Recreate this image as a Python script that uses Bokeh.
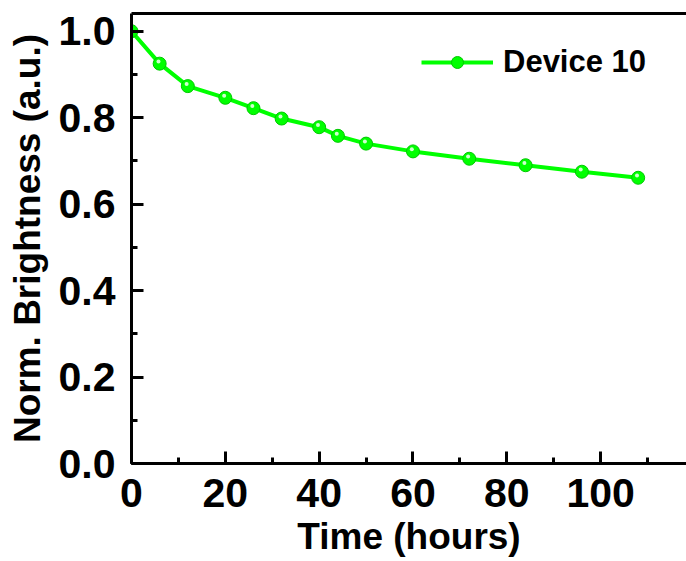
from bokeh.plotting import figure
from bokeh.models import (Range1d, LinearAxis, SingleIntervalTicker, FixedTicker,
                          Legend, LegendItem, ColumnDataSource, NumeralTickFormatter)
from bokeh.transform import dodge
from bokeh.embed import file_html
from bokeh.resources import INLINE

# ---- data ----
time_hours = [0, 6, 12, 20, 26, 32, 40, 44, 50, 60, 72, 84, 96, 108]
brightness = [1.0, 0.925, 0.873, 0.846, 0.822, 0.798, 0.778, 0.758,
              0.740, 0.722, 0.705, 0.690, 0.675, 0.661]
series_label = "Device 10"
x_title = "Time (hours)"
y_title = "Norm. Brightness (a.u.)"

FONT = "Liberation Sans"
GREEN = "#00ff00"

src = ColumnDataSource(dict(t=time_hours, b=brightness))

p = figure(width=686, height=561, output_backend="svg", toolbar_location=None,
           x_range=Range1d(0, 118.3), y_range=Range1d(0, 1.041),
           min_border_left=131, min_border_right=0, min_border_top=13,
           min_border_bottom=98, x_axis_location=None, y_axis_location=None)
p.outline_line_color = None
p.grid.visible = False
p.background_fill_color = "white"
p.border_fill_color = "white"

def style_axis(ax):
    ax.axis_line_width = 3
    ax.axis_line_color = "black"
    ax.major_tick_line_width = 3
    ax.minor_tick_line_width = 3
    ax.major_tick_in = 12
    ax.major_tick_out = 0
    ax.minor_tick_in = 6
    ax.minor_tick_out = 0
    ax.major_label_text_font = FONT
    ax.major_label_text_font_style = "bold"
    ax.major_label_text_font_size = "41px"
    ax.major_label_text_color = "black"
    ax.axis_label_text_font = FONT
    ax.axis_label_text_font_style = "bold"
    ax.axis_label_text_font_size = "37px"
    ax.axis_label_text_color = "black"

xax = LinearAxis(ticker=SingleIntervalTicker(interval=20, num_minor_ticks=2),
                 axis_label=x_title)
style_axis(xax)
xax.major_label_standoff = 15
xax.axis_label_standoff = 6
p.add_layout(xax, "below")

yax = LinearAxis(ticker=SingleIntervalTicker(interval=0.2, num_minor_ticks=2),
                 axis_label=y_title, formatter=NumeralTickFormatter(format="0.0"))
style_axis(yax)
yax.major_label_standoff = 16
yax.axis_label_standoff = 8
p.add_layout(yax, "left")

top = LinearAxis(ticker=FixedTicker(ticks=[]))
top.axis_line_width = 3
top.major_tick_in = 0
top.major_tick_out = 0
top.minor_tick_in = 0
top.minor_tick_out = 0
top.major_label_text_font_size = "0px"
p.add_layout(top, "above")

ln = p.line("t", "b", source=src, line_color=GREEN, line_width=4)
sc = p.scatter("t", "b", source=src, marker="circle", size=13,
               fill_color=GREEN, line_color="#00c800", line_width=1)
hl = p.scatter(dodge("t", -0.25, range=p.x_range), dodge("b", 0.005, range=p.y_range),
               source=src, marker="circle", size=4, fill_color="#e6ffe6",
               line_color=None, fill_alpha=0.9)

legend = Legend(items=[LegendItem(label=series_label, renderers=[ln, sc])],
                location=(290, 383), orientation="vertical",
                glyph_width=72, glyph_height=30, label_height=30,
                label_standoff=10, padding=0, margin=0, spacing=0,
                border_line_color=None, background_fill_alpha=0,
                label_text_font=FONT, label_text_font_style="bold",
                label_text_font_size="31px", label_text_color="black")
p.add_layout(legend, "center")

open("out.html", "w").write(file_html(p, INLINE))
